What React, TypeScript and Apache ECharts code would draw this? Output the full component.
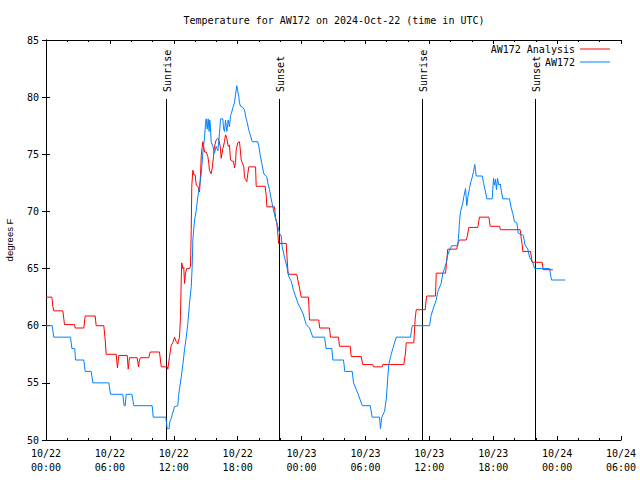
import React, { useEffect, useRef } from 'react';
import * as echarts from 'echarts';

const xTickLabels = [
  '10/22\n00:00', '10/22\n06:00', '10/22\n12:00', '10/22\n18:00',
  '10/23\n00:00', '10/23\n06:00', '10/23\n12:00', '10/23\n18:00',
  '10/24\n00:00', '10/24\n06:00',
];

// hours since 2024-10-22 00:00 UTC
const analysisHours = [
  0, 0.55, 0.64, 0.73, 1.58, 1.74, 2.68, 2.74, 3.55, 3.68, 4.62, 4.71, 5.43, 5.56, 5.65,
  6.59, 6.71, 6.84, 7.63, 7.72, 7.84, 8.56, 8.69, 8.78, 8.87, 9.65, 9.79, 10.66, 10.82,
  11.38, 11.44, 11.6, 11.76, 11.91, 12.07, 12.23, 12.38, 12.54, 12.63, 12.7, 12.75, 12.85,
  12.94, 13.01, 13.1, 13.22, 13.48, 13.57, 13.64, 13.69, 13.79, 13.88, 14.01, 14.11, 14.26,
  14.42, 14.51, 14.58, 14.73, 14.89, 15.04, 15.2, 15.29, 15.35, 15.51, 15.61, 15.73, 15.82,
  15.98, 16.14, 16.23, 16.36, 16.45, 16.61, 16.76, 16.86, 16.98, 17.11, 17.23, 17.33, 17.49,
  17.61, 17.7, 17.8, 17.86, 18.01, 18.17, 18.27, 18.33, 18.42, 18.58, 18.64, 18.73, 18.86,
  18.95, 19.05, 19.68, 19.74, 20.58, 20.68, 20.74, 21.46, 21.55, 21.68, 21.77, 21.84, 22.56,
  22.65, 22.74, 23.55, 23.65, 23.81, 23.97, 24.65, 24.75, 25.62, 25.71, 26.62, 26.72, 27.47,
  27.56, 28.57, 28.66, 29.6, 29.75, 30.69, 30.76, 31.57, 31.63, 33.6, 33.76, 33.83, 34.54,
  34.67, 34.77, 35.61, 35.7, 35.76, 36.58, 36.65, 37.52, 37.64, 37.73, 38.58, 38.67, 38.83,
  39.46, 39.56, 39.71, 40.55, 40.71, 41.59, 41.72, 42.59, 42.68, 44.53, 44.63, 44.72, 44.78,
  45.5, 45.66, 46.6, 46.69, 47.6,
];
const analysisTemps = [
  62.5, 62.5, 61.7, 61.3, 61.3, 60.1, 60.1, 59.8, 59.8, 60.85, 60.85, 60.0, 60.0, 58.75, 57.5,
  57.5, 56.3, 57.4, 57.4, 56.2, 57.2, 57.2, 56.4, 57.0, 57.2, 57.2, 57.7, 57.7, 56.4,
  56.4, 56.2, 57.3, 58.3, 58.5, 59.0, 58.6, 58.4, 59.0, 60.8, 64.0, 65.5, 65.0,
  65.1, 63.7, 64.6, 65.0, 65.0, 65.2, 68.4, 72.2, 73.6, 73.2, 73.2, 72.3, 72.2,
  71.7, 73.2, 74.9, 76.1, 75.2, 75.2, 74.8, 74.2, 73.6, 73.3, 73.8, 74.8, 75.7,
  76.25, 76.4, 76.25, 75.7, 74.65, 75.5, 76.1, 76.7, 76.4, 75.7, 75.8, 74.5, 74.4,
  74.4, 73.8, 74.3, 75.4, 76.0, 76.1, 75.2, 74.5, 74.3, 73.9, 73.0, 72.8, 72.6,
  73.3, 73.9, 73.9, 72.2, 72.2, 71.4, 70.4, 70.4, 69.5, 69.0, 68.1, 67.2, 67.2,
  65.75, 64.5, 64.5, 64.0, 63.3, 62.5, 62.5, 60.5, 60.5, 59.8, 59.8, 59.0, 59.0,
  58.2, 58.2, 57.3, 57.3, 56.6, 56.6, 56.4, 56.4, 56.6, 56.6, 57.6, 58.5, 58.5,
  60.6, 61.4, 61.4, 62.25, 62.6, 62.6, 64.6, 64.6, 65.75, 66.7, 66.7, 67.2, 67.5,
  67.5, 67.8, 68.6, 68.6, 69.5, 69.5, 68.7, 68.7, 68.4, 68.4, 67.65, 67.1, 66.5,
  66.5, 65.55, 65.55, 64.9, 64.9,
];

const stationHours = [
  0, 0.58, 0.73, 2.3, 2.43, 2.7, 2.77, 3.55, 3.68, 4.24, 4.4, 5.9, 6.06, 7.21, 7.34, 7.44,
  7.53, 8.06, 8.25, 9.97, 10.07, 11.25, 11.38, 11.57, 11.6, 11.76, 12.07, 12.38, 12.44,
  12.54, 12.7, 12.85, 13.01, 13.17, 13.32, 13.48, 13.64, 13.73, 13.79, 13.95, 14.11, 14.26,
  14.42, 14.58, 14.73, 14.89, 14.98, 15.04, 15.14, 15.23, 15.32, 15.38, 15.45, 15.51, 15.67,
  15.82, 15.98, 16.14, 16.29, 16.39, 16.61, 16.67, 16.76, 16.86, 16.98, 17.11, 17.23, 17.33,
  17.42, 17.55, 17.7, 17.8, 17.92, 18.01, 18.11, 18.17, 18.27, 18.48, 18.64, 18.8, 18.89,
  19.05, 19.18, 19.37, 19.89, 19.99, 20.12, 20.27, 20.45, 20.74, 20.83, 20.99, 21.15, 21.3,
  21.55, 21.77, 22.0, 22.09, 22.18, 22.4, 22.61, 22.8, 23.03, 23.24, 23.65, 24.12, 24.44,
  24.75, 25.06, 26.16, 26.31, 26.84, 26.94, 27.94, 28.06, 28.76, 28.88, 29.28, 29.7, 30.45,
  30.63, 31.32, 31.41, 31.54, 31.79, 31.95, 32.1, 32.19, 32.42, 32.57, 32.89, 34.23, 34.39,
  36.02, 36.17, 36.33, 36.65, 36.8, 37.11, 37.27, 37.42, 37.59, 37.73, 37.89, 38.11, 38.67,
  38.77, 38.83, 38.93, 39.14, 39.24, 39.4, 39.52, 39.62, 39.77, 39.87, 40.03, 40.15, 40.27,
  40.4, 40.97, 41.09, 41.28, 41.4, 41.9, 42.03, 42.12, 42.21, 42.31, 42.4, 42.53, 42.66,
  42.78, 42.9, 43.53, 43.69, 43.84, 44.0, 44.22, 44.35, 44.84, 44.97, 45.25, 45.41, 45.72,
  45.88, 47.29, 47.47, 48.76,
];
const stationTemps = [
  60, 60, 59, 59, 58, 58, 57, 57, 56, 56, 55, 55, 54, 54, 53, 53,
  54, 54, 53, 53, 52, 52, 51, 51, 51.5, 51.9, 52.9, 53, 53.8,
  54.5, 55.5, 56.6, 57.9, 59, 60.2, 62, 63.4, 65.2, 67.5, 69.25, 70.1, 71.3,
  72.2, 73.3, 75.1, 76.5, 77.7, 78.1, 77.2, 78.1, 77.0, 78.0, 77.3, 76.1, 75.7,
  75.1, 75.7, 75.3, 76.8, 78.1, 78.1, 77.3, 77.0, 78.0, 77.0, 78.0, 77.4, 78.4,
  78.6, 79.1, 79.5, 80.2, 81.0, 80.5, 80.0, 79.5, 79.2, 79.1, 78.9, 78.1, 77.8,
  77.1, 76.7, 76.1, 76.1, 75.7, 74.9, 74.2, 73.3, 73.0, 72.5, 71.9, 71.1, 70.4,
  69.4, 68.7, 67.9, 67.9, 66.9, 66.0, 65.2, 64.3, 63.9, 63.1, 62.0, 61.1, 60.1,
  59.8, 59.0, 59.0, 58.0, 58.0, 57.0, 57.0, 56.0, 56.0, 55.0, 54.1, 53.0, 53.0,
  52.0, 52.0, 51.0, 52.0, 52.5, 53.5, 55.5, 56.6, 57.5, 58.0, 59.0, 59.0, 60.0,
  60.0, 60.9, 61.4, 62.25, 63.0, 63.7, 64.6, 65.0, 65.5, 66.2, 66.6, 67.0, 67.0,
  68.1, 69.1, 70.0, 70.7, 71.3, 72.0, 70.5, 71.3, 72.0, 72.5, 73.0, 73.5, 74.1,
  73.1, 73.1, 72.5, 71.7, 71.1, 71.1, 72.9, 72.3, 72.8, 71.9, 72.9, 72.3, 72.4,
  71.7, 71.1, 71.1, 70.3, 69.8, 69.1, 69.0, 68.1, 67.9, 67.1, 66.7, 66.0, 65.5,
  65.0, 65.0, 64.0, 64.0,
];

const sunEventHours = [11.29, 21.87, 35.29, 45.94];
const sunEventLabels = ['Sunrise', 'Sunset', 'Sunrise', 'Sunset'];

const MONO = 'DejaVu Sans Mono';

export default function App() {
  const ref = useRef<HTMLDivElement>(null);
  useEffect(() => {
    if (!ref.current) return;
    const chart = echarts.init(ref.current, null, { renderer: 'svg' });
    const yMin = 50, yMax = 85, lineTopValue = 79.84;
    chart.setOption({
      animation: false,
      backgroundColor: '#fff',
      title: {
        text: 'Temperature for AW172 on 2024-Oct-22 (time in UTC)',
        left: 334,
        textAlign: 'center',
        top: 14,
        padding: 0,
        textStyle: { fontFamily: MONO, fontSize: 10, fontWeight: 'normal', color: '#000', lineHeight: 12 },
      },
      legend: {
        orient: 'vertical',
        right: 30,
        top: 43,
        padding: 0,
        align: 'right',
        itemGap: 1,
        itemWidth: 30,
        itemHeight: 1,
        icon: 'rect',
        data: ['AW172 Analysis', 'AW172'],
        textStyle: { fontFamily: MONO, fontSize: 10, color: '#000', lineHeight: 12 },
      },
      grid: { left: 46, right: 19, top: 40, bottom: 40, outerBoundsMode: 'none', containLabel: false },
      xAxis: [
        {
          type: 'value', min: 0, max: 54, interval: 6,
          axisLine: { lineStyle: { color: '#000', width: 1 } },
          axisTick: { inside: true, length: 4, lineStyle: { color: '#000' } },
          minorTick: { show: true, splitNumber: 3, length: 2, lineStyle: { color: '#000' } },
          splitLine: { show: false },
          axisLabel: {
            margin: 6,
            fontFamily: MONO, fontSize: 10, color: '#000', lineHeight: 14,
            formatter: (v: number) => xTickLabels[Math.round(v / 6)] ?? '',
          },
        },
        {
          type: 'value', min: 0, max: 54, interval: 6, position: 'top',
          axisLine: { lineStyle: { color: '#000', width: 1 } },
          axisTick: { inside: true, length: 4, lineStyle: { color: '#000' } },
          minorTick: { show: true, splitNumber: 3, length: 2, lineStyle: { color: '#000' } },
          splitLine: { show: false },
          axisLabel: { show: false },
        },
      ],
      yAxis: [
        {
          type: 'value', min: yMin, max: yMax, interval: 5,
          name: 'degrees F', nameLocation: 'middle', nameRotate: 90, nameGap: 32,
          nameTextStyle: { fontFamily: 'Liberation Sans', fontSize: 9.5, color: '#000' },
          axisLine: { show: true, lineStyle: { color: '#000', width: 1 } },
          axisTick: { show: true, inside: true, length: 4, lineStyle: { color: '#000' } },
          splitLine: { show: false },
          axisLabel: { margin: 7, fontFamily: MONO, fontSize: 10, color: '#000' },
        },
        {
          type: 'value', min: yMin, max: yMax, interval: 5, position: 'right',
          axisLine: { show: true, lineStyle: { color: '#000', width: 1 } },
          axisTick: { show: true, inside: true, length: 4, lineStyle: { color: '#000' } },
          splitLine: { show: false },
          axisLabel: { show: false },
        },
      ],
      series: [
        {
          type: 'custom',
          name: 'sun',
          xAxisIndex: 0,
          yAxisIndex: 0,
          silent: true,
          data: sunEventHours.map((h) => [h, yMin]),
          renderItem: (params: any, api: any) => {
            const h = api.value(0);
            const bottom = api.coord([h, yMin]);
            const top = api.coord([h, lineTopValue]);
            const x = Math.round(bottom[0]) + 0.5;
            return {
              type: 'group',
              children: [
                {
                  type: 'line',
                  shape: { x1: x, y1: bottom[1], x2: x, y2: top[1] },
                  style: { stroke: '#000', lineWidth: 1 },
                },
                {
                  type: 'text',
                  x: x + 0.5,
                  y: top[1] - 7,
                  rotation: Math.PI / 2,
                  style: {
                    text: sunEventLabels[params.dataIndex],
                    x: 0, y: 0,
                    align: 'left',
                    verticalAlign: 'middle',
                    font: `10px "${MONO}"`,
                    fill: '#000',
                  },
                },
              ],
            };
          },
        },
        {
          type: 'line',
          name: 'AW172 Analysis',
          showSymbol: false,
          symbol: 'none',
          color: '#ff0000',
          lineStyle: { width: 1, color: '#ff0000' },
          data: analysisHours.map((h, i) => [h, analysisTemps[i]]),
        },
        {
          type: 'line',
          name: 'AW172',
          showSymbol: false,
          symbol: 'none',
          color: '#0080ff',
          lineStyle: { width: 1, color: '#0080ff' },
          data: stationHours.map((h, i) => [h, stationTemps[i]]),
        },
      ],
    });
    return () => chart.dispose();
  }, []);
  return (
    <div
      ref={ref}
      style={{ position: 'fixed', left: 0, top: 0, width: 640, height: 480, background: '#fff' }}
    />
  );
}
